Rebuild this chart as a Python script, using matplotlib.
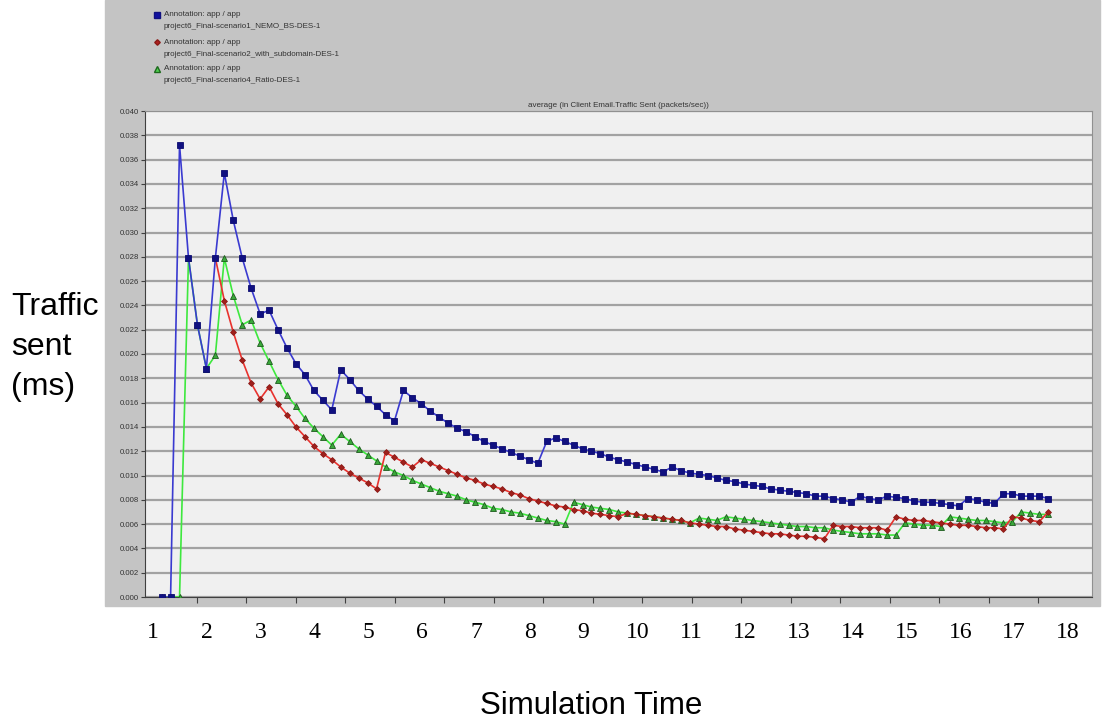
import numpy as np
import matplotlib.pyplot as plt
from matplotlib.lines import Line2D
from matplotlib.patches import Rectangle

# sample times (uniform sampling of the simulation)
t_start = 1.16
t_step = 0.1664
n_points = 100

scenario1 = [0, 0, 0.0372, 0.0279, 0.0224, 0.0188, 0.0279, 0.0349, 0.0310, 0.0279,
             0.0254, 0.0233, 0.0236, 0.0220, 0.0205, 0.0192, 0.0183, 0.0170, 0.0162, 0.0154,
             0.0187, 0.0179, 0.0170, 0.0163, 0.0157, 0.0150, 0.0145, 0.0170, 0.0164, 0.0159,
             0.0153, 0.0148, 0.0143, 0.0139, 0.0136, 0.0132, 0.0128, 0.0125, 0.0122, 0.0119,
             0.0116, 0.0113, 0.0110, 0.0128, 0.0131, 0.0128, 0.0125, 0.0122, 0.0120, 0.0118,
             0.0115, 0.0113, 0.0111, 0.0109, 0.0107, 0.0105, 0.0103, 0.0107, 0.0104, 0.0102,
             0.0101, 0.0100, 0.0098, 0.0096, 0.0095, 0.0093, 0.0092, 0.0091, 0.0089, 0.0088,
             0.0087, 0.0086, 0.0085, 0.0083, 0.0083, 0.0081, 0.0080, 0.0078, 0.0083, 0.0081,
             0.0080, 0.0083, 0.0082, 0.0081, 0.0079, 0.0078, 0.0078, 0.0077, 0.0076, 0.0075,
             0.0081, 0.0080, 0.0078, 0.0077, 0.0085, 0.0085, 0.0083, 0.0083, 0.0083, 0.0081]

nan = np.nan
scenario2 = [nan, nan, nan, nan, nan, nan, 0.0279, 0.0244, 0.0218, 0.0195,
             0.0176, 0.0163, 0.0173, 0.0159, 0.0150, 0.0140, 0.0132, 0.0124, 0.0118, 0.0113,
             0.0107, 0.0102, 0.0098, 0.0094, 0.0089, 0.0119, 0.0115, 0.0111, 0.0107, 0.0113,
             0.0110, 0.0107, 0.0104, 0.0101, 0.0098, 0.0096, 0.0093, 0.0091, 0.0089, 0.0086,
             0.0084, 0.0081, 0.0079, 0.0077, 0.0075, 0.0074, 0.0072, 0.0071, 0.0069, 0.0068,
             0.0067, 0.0066, 0.0069, 0.0068, 0.0067, 0.0066, 0.0065, 0.0064, 0.0063, 0.0061,
             0.0060, 0.0059, 0.0058, 0.0058, 0.0056, 0.0055, 0.0054, 0.0053, 0.0052, 0.0052,
             0.0051, 0.0050, 0.0050, 0.0049, 0.0048, 0.0059, 0.0058, 0.0058, 0.0057, 0.0057,
             0.0057, 0.0055, 0.0066, 0.0064, 0.0063, 0.0063, 0.0062, 0.0061, 0.0060, 0.0059,
             0.0059, 0.0058, 0.0057, 0.0057, 0.0056, 0.0066, 0.0065, 0.0063, 0.0062, 0.0070]

scenario4 = [0, 0, 0, 0.0279, 0.0224, 0.0188, 0.0199, 0.0279, 0.0248, 0.0224,
             0.0228, 0.0209, 0.0194, 0.0179, 0.0166, 0.0157, 0.0147, 0.0139, 0.0132, 0.0125,
             0.0134, 0.0128, 0.0122, 0.0117, 0.0112, 0.0107, 0.0103, 0.0100, 0.0096, 0.0093,
             0.0090, 0.0087, 0.0085, 0.0083, 0.0080, 0.0078, 0.0076, 0.0073, 0.0072, 0.0070,
             0.0069, 0.0067, 0.0065, 0.0063, 0.0062, 0.0060, 0.0078, 0.0076, 0.0074, 0.0073,
             0.0072, 0.0070, 0.0069, 0.0068, 0.0067, 0.0066, 0.0065, 0.0064, 0.0063, 0.0061,
             0.0065, 0.0064, 0.0063, 0.0066, 0.0065, 0.0064, 0.0063, 0.0062, 0.0061, 0.0060,
             0.0059, 0.0058, 0.0058, 0.0057, 0.0057, 0.0055, 0.0054, 0.0053, 0.0052, 0.0052,
             0.0052, 0.0051, 0.0051, 0.0061, 0.0060, 0.0059, 0.0059, 0.0058, 0.0066, 0.0065,
             0.0064, 0.0063, 0.0063, 0.0062, 0.0061, 0.0062, 0.0070, 0.0069, 0.0068, 0.0068]

legend_lines = [
    ("Annotation: app / app", "project6_Final-scenario1_NEMO_BS-DES-1"),
    ("Annotation: app / app", "project6_Final-scenario2_with_subdomain-DES-1"),
    ("Annotation: app / app", "project6_Final-scenario4_Ratio-DES-1"),
]
time_labels = list(range(1, 19))

t = t_start + t_step * np.arange(n_points)

W, H = 1106, 723
def fx(px):
    return px / W
def fy(py):
    return 1 - py / H

fig = plt.figure(figsize=(W / 100, H / 100), dpi=100)
fig.patch.set_facecolor('white')

# grey panel of the screenshot
fig.patches.append(Rectangle((fx(105), fy(606)), fx(1100) - fx(105), fy(0) - fy(606),
                             transform=fig.transFigure, color='#c4c4c4', zorder=-5))

ax = fig.add_axes([fx(145), fy(597), fx(1092) - fx(145), fy(111) - fy(597)])
ax.set_zorder(2)
ax.set_facecolor('#f0f0f0')

# series: (values, line colour, marker, marker face, marker edge, size)
styles = [
    (scenario4, '#3ee83e', '^', '#3aa83a', '#1d5a1d', 4.4),
    (scenario2, '#e8322e', 'D', '#a0201c', '#8a1a16', 3.0),
    (scenario1, '#3a3ad0', 's', '#101080', '#0a0a70', 4.4),
]
for vals, lc, mk, mfc, mec, ms in styles:
    ax.plot(t, vals, color=lc, lw=1.2, marker=mk, ms=ms, mfc=mfc, mec=mec, mew=0.6, zorder=3)

ax.set_xlim(0.851, 18.447)
ax.set_ylim(0, 0.040)

ax.set_yticks(np.arange(0, 0.0401, 0.002))
ax.set_yticklabels([f"{v:.3f}" for v in np.arange(0, 0.0401, 0.002)])
ax.yaxis.grid(True, color='#a2a2a2', lw=1.6)
ax.set_axisbelow(True)
ax.tick_params(axis='y', labelsize=5.6, length=3, width=0.8, color='#404040', pad=1.5, labelcolor='#333333')
for lab in ax.get_yticklabels():
    lab.set_family('Liberation Sans')

ax.set_xticks(time_labels)
ax.set_xticklabels([str(v) for v in time_labels], family='Liberation Serif', fontsize=17)
ax.set_xticks(1.81 + 0.9197 * np.arange(18), minor=True)
ax.tick_params(axis='x', which='major', length=0, pad=18)
ax.tick_params(axis='x', which='minor', length=4, width=0.8, color='#404040')

for side in ['left', 'bottom']:
    ax.spines[side].set_color('#404040')
for side in ['top', 'right']:
    ax.spines[side].set_color('#909090')

ax.set_title("average (in Client Email.Traffic Sent (packets/sec))", fontsize=5.8,
             family='Liberation Sans', pad=3, color='#333333', x=0.5)

# legend as in the screenshot
marker_specs = [('s', '#1010a0', '#101080', 4.4), ('D', '#b02020', '#8a1a16', 2.8), ('^', '#50d050', '#1d6a1d', 4.4)]
for k, (l1, l2) in enumerate(legend_lines):
    y1 = 15 + 27 * k
    mk, mfc, mec, ms = marker_specs[k]
    fig.add_artist(Line2D([fx(157)], [fy(y1)], marker=mk, ms=ms, mfc=mfc, mec=mec, lw=0,
                          transform=fig.transFigure))
    fig.text(fx(164), fy(y1), l1, fontsize=5.8, family='Liberation Sans', va='center', color='#333333')
    fig.text(fx(164), fy(y1 + 12), l2, fontsize=5.8, family='Liberation Sans', va='center', color='#333333')

fig.text(fx(11), fy(347), "Traffic\nsent\n(ms)", fontsize=23, family='Liberation Sans',
         va='center', ha='left', linespacing=1.45)
fig.text(fx(591), fy(706), "Simulation Time", fontsize=22.5, family='Liberation Sans',
         va='center', ha='center')

fig.savefig('out.png', dpi=100)
